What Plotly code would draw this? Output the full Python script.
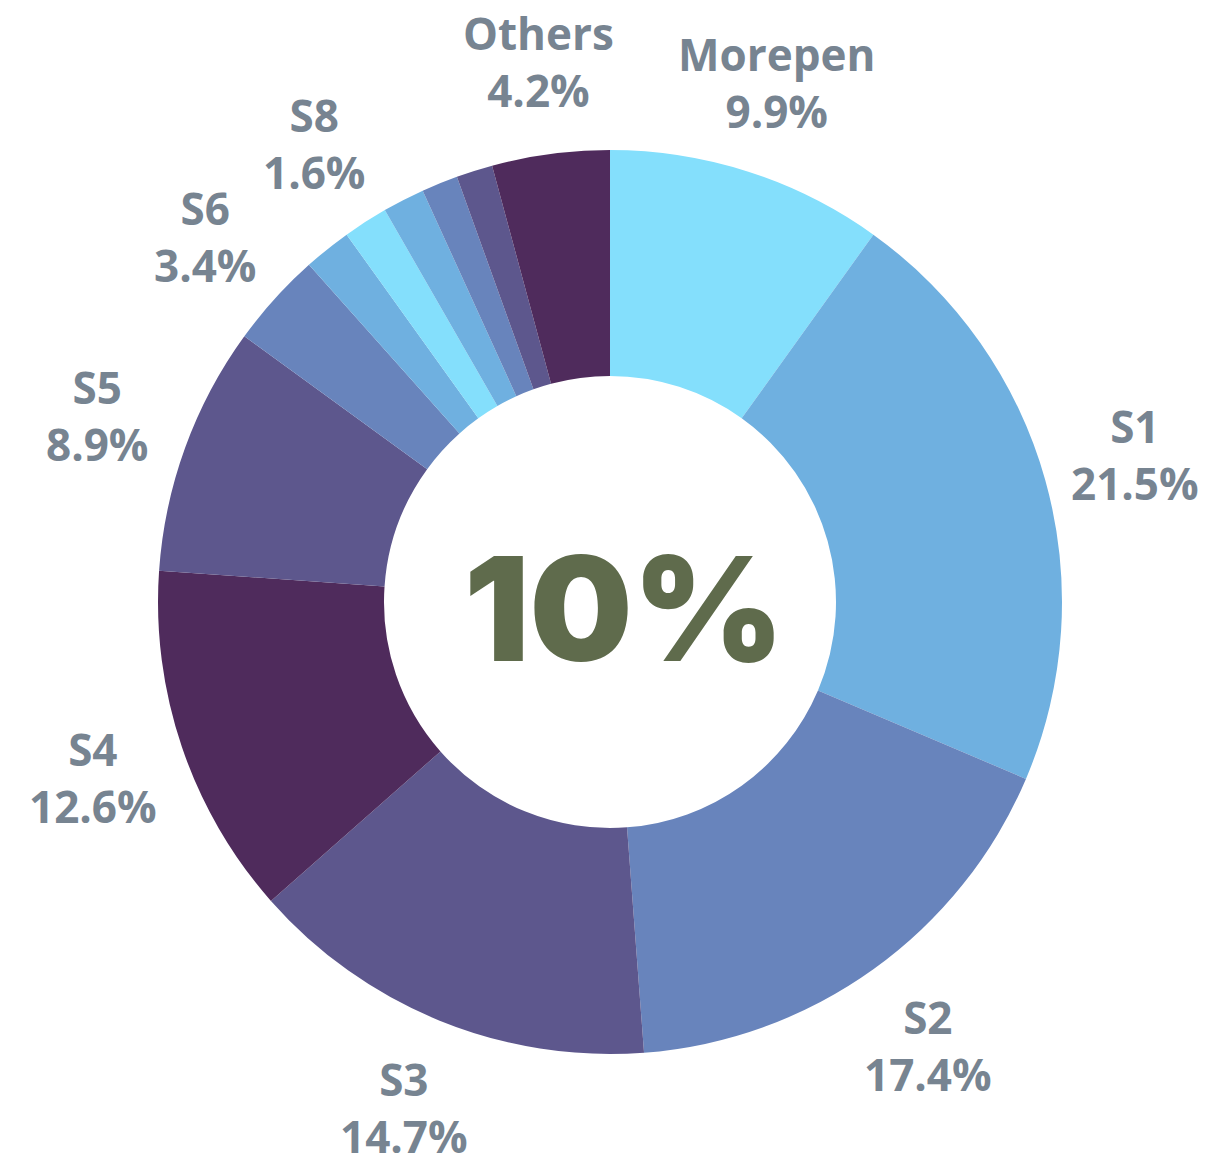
import math
import plotly.graph_objects as go

labels = ["Morepen", "S1", "S2", "S3", "S4", "S5", "S6", "S7", "S8", "S9", "S10", "S11", "Others"]
values = [9.9, 21.5, 17.4, 14.7, 12.6, 8.9, 3.4, 1.7, 1.6, 1.5, 1.3, 1.3, 4.2]
show_label = [True, True, True, True, True, True, True, False, True, False, False, False, True]
colors = ["#84dffc", "#6fb0e0", "#6884bc", "#5d578d", "#4f2b5c", "#5d578d", "#6884bc",
          "#6fb0e0", "#84dffc", "#6fb0e0", "#6884bc", "#5d578d", "#4f2b5c"]
center_text = "10%"

fig = go.Figure(go.Pie(
    labels=labels,
    values=values,
    hole=0.5,
    sort=False,
    direction="clockwise",
    rotation=0,
    marker=dict(colors=colors, line=dict(width=0)),
    textinfo="none",
    showlegend=False,
    hoverinfo="label+percent",
))

# outside labels placed along each slice's mid-angle
total = sum(values)
label_r = 0.5 * 1.207  # in paper units (domain is square, pie radius = 0.5)
cum = 0.0
for lab, val, show in zip(labels, values, show_label):
    mid = (cum + val / 2) / total * 2 * math.pi
    cum += val
    if not show:
        continue
    x = 0.5 + label_r * math.sin(mid)
    y = 0.5 + label_r * math.cos(mid)
    fig.add_annotation(
        text=f"{lab}<br>{val:.1f}%", x=x, y=y, xref="paper", yref="paper",
        xanchor="center", yanchor="middle", showarrow=False,
        font=dict(family="Open Sans", size=44, color="#778491", weight="bold"),
    )

fig.add_annotation(
    text=center_text, x=0.5, y=0.5, xref="paper", yref="paper",
    showarrow=False, xshift=14, yshift=-6,
    font=dict(family="Inter", size=145, color="#5f6b4c", weight=900),
)

fig.update_layout(
    width=1222, height=1159,
    margin=dict(l=150, r=168, t=142, b=113),
    paper_bgcolor="white", plot_bgcolor="white",
)

fig.write_html("out.html")
